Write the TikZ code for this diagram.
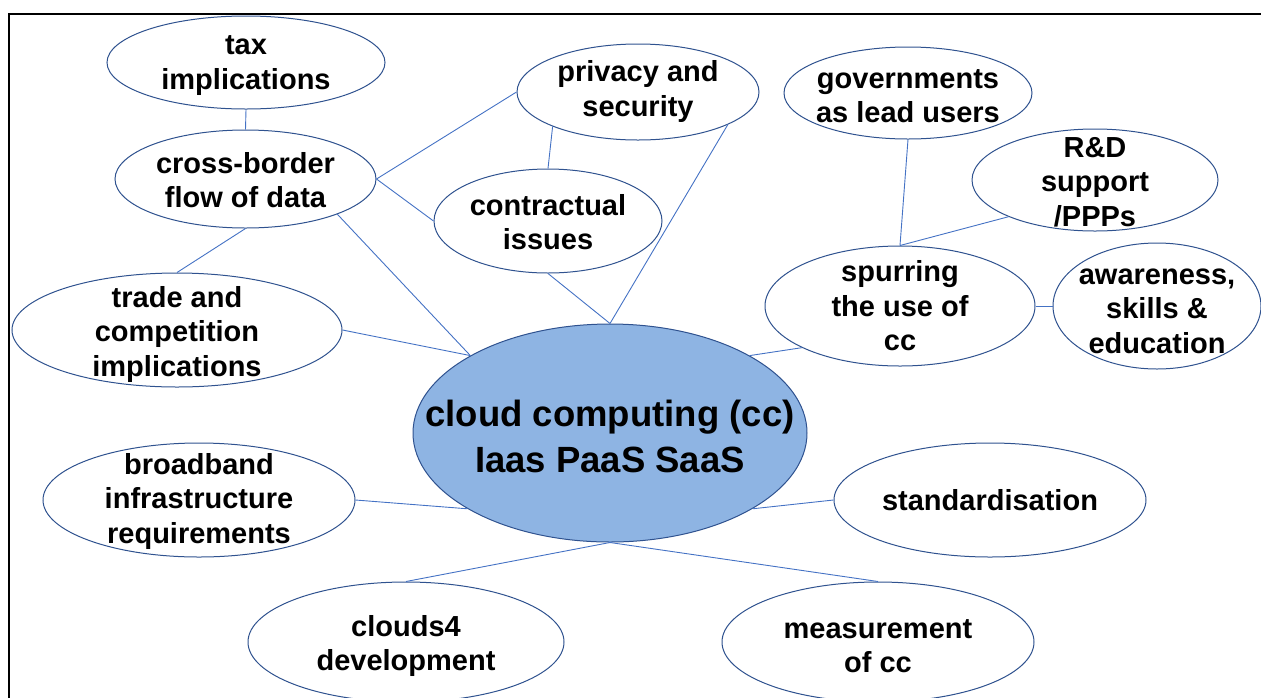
\documentclass[tikz,border=0pt]{standalone}
\usepackage{fontspec}
\setmainfont{Liberation Sans}
\usetikzlibrary{shapes.geometric}
\definecolor{edgeblue}{HTML}{2F528F}
\definecolor{linkblue}{HTML}{4472C4}
\definecolor{cloudfill}{HTML}{8EB4E3}
\tikzset{
  bubble/.style={ellipse, draw=edgeblue, line width=1pt, fill=white, inner sep=0pt},
  btext/.style={font=\fontsize{29}{34.5}\selectfont\bfseries, align=center, text=black, inner sep=0pt},
  ctext/.style={font=\fontsize{36.5}{46}\selectfont\bfseries, align=center, text=black, inner sep=0pt},
  link/.style={draw=linkblue, line width=0.9pt},
  frame/.style={draw=black, line width=1.4pt}
}
\begin{document}
\begin{tikzpicture}[x=1pt,y=-1pt]
\useasboundingbox (0,0) rectangle (1261,697);
\coordinate (fbl) at (9,700);
\coordinate (ftl) at (9,14);
\coordinate (ftr) at (1264,14);
\draw[frame] (fbl) -- (ftl) -- (ftr);

\node[bubble, minimum width=278, minimum height=93, label={[btext, yshift=-3]center:{tax\\implications}}] (tax) at (246,62.5) {};
\node[bubble, minimum width=261, minimum height=98, label={[btext, yshift=-1]center:{cross-border\\flow of data}}] (cross) at (245.5,179) {};
\node[bubble, minimum width=242, minimum height=96, label={[btext, yshift=0.5]center:{privacy and\\security}}] (priv) at (638,92) {};
\node[bubble, minimum width=228, minimum height=104, label={[btext, yshift=-1]center:{contractual\\issues}}] (contr) at (548,221) {};
\node[bubble, minimum width=330, minimum height=114, label={[btext, yshift=-4]center:{trade and\\competition\\implications}}] (trade) at (177,330) {};
\node[ellipse, draw=edgeblue, line width=1pt, fill=cloudfill, inner sep=0pt, minimum width=394, minimum height=218, label={[ctext, yshift=-3]center:{cloud computing (cc)\\Iaas PaaS SaaS}}] (cloud) at (610,433) {};
\node[bubble, minimum width=248, minimum height=92, label={[btext, yshift=-3]center:{governments\\as lead users}}] (gov) at (908,93) {};
\node[bubble, minimum width=246, minimum height=102, label={[btext, yshift=-2]center:{R\&D\\support\\/PPPs}}] (rd) at (1095,180) {};
\node[bubble, minimum width=270, minimum height=120, label={[btext]center:{spurring\\the use of\\cc}}] (spur) at (900,306) {};
\node[bubble, minimum width=208, minimum height=126, label={[btext, yshift=-5]center:{awareness,\\skills \&\\education}}] (aware) at (1157,306) {};
\node[bubble, minimum width=312, minimum height=114, label={[btext, yshift=-1]center:{broadband\\infrastructure\\requirements}}] (broad) at (199,500) {};
\node[bubble, minimum width=312, minimum height=114, label={[btext]center:{standardisation}}] (std) at (990,500) {};
\node[bubble, minimum width=316, minimum height=120, label={[btext, yshift=-4]center:{clouds4\\development}}] (c4d) at (406,642) {};
\node[bubble, minimum width=312, minimum height=120, label={[btext, yshift=-4]center:{measurement\\of cc}}] (meas) at (878,642) {};

\draw[link] (tax.south) -- (cross.north);
\draw[link] (cross.east) -- (priv.west);
\draw[link] (cross.east) -- (contr.west);
\draw[link] (cross.south) -- (trade.north);
\draw[link] (cross.-21) -- (cloud.151);
\draw[link] (trade.east) -- (cloud.151);
\draw[link] (priv.202) -- (contr.north);
\draw[link] (priv.-20) -- (cloud.north);
\draw[link] (contr.south) -- (cloud.north);
\draw[link] (gov.south) -- (spur.north);
\draw[link] (rd.203) -- (spur.north);
\draw[link] (spur.east) -- (aware.west);
\draw[link] (spur.203) -- (cloud.29);
\draw[link] (broad.east) -- (cloud.208);
\draw[link] (std.west) -- (cloud.-28);
\draw[link] (cloud.south) -- (c4d.north);
\draw[link] (cloud.south) -- (meas.north);
\end{tikzpicture}
\end{document}
